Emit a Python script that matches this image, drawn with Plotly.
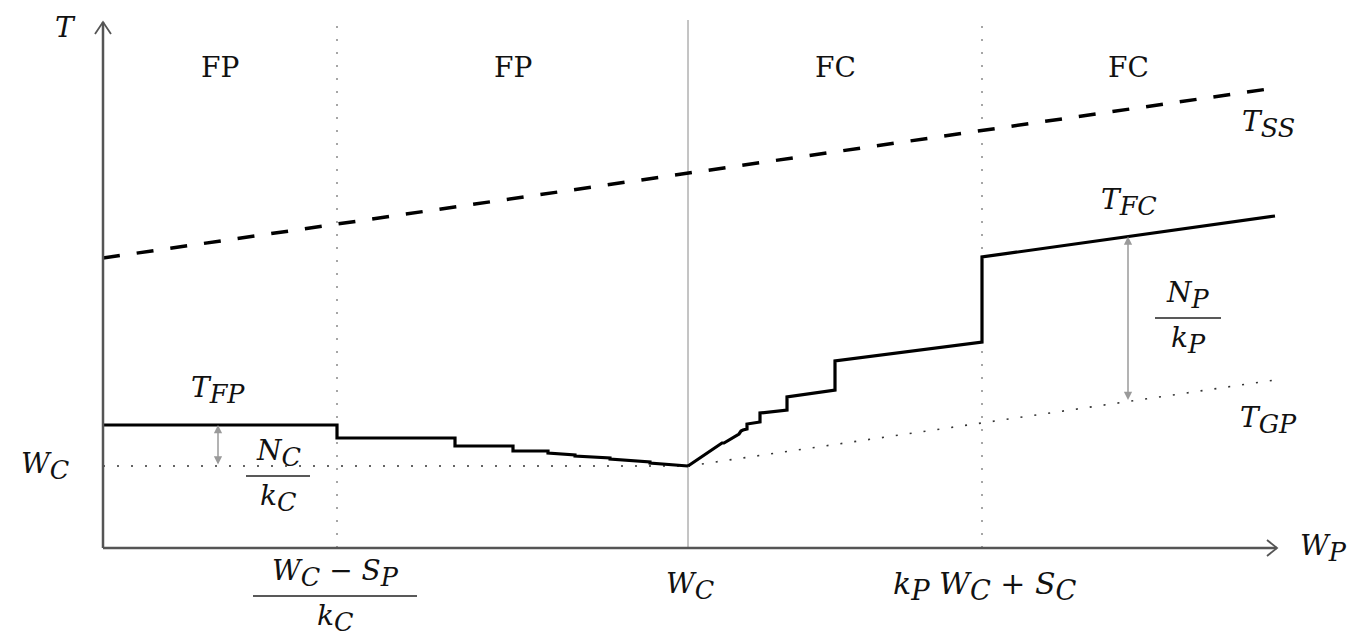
import plotly.graph_objects as go
import numpy as np

# Schematic units: x = distance along W_P axis, y = height above the W_P axis
X_END = 1174          # tip of W_P axis
Y_END = 526           # tip of T axis
LINE_TOP = 528        # top of the regime separators
x_splits = [234, 585, 879]      # (W_C - S_P)/k_C, W_C, k_P W_C + S_C
x_last = 1172
wc_level = 82

region_labels = ["FP", "FP", "FC", "FC"]

tss_x = [0, 1172]
tss_y = [290, 460]

tgp_x = [585, 1172]
tgp_y = [82, 168]

tfp_x = [0, 234, 234, 352, 352, 410, 410, 445, 445, 472, 472, 507, 507, 547, 547, 585]
tfp_y = [123, 123, 110, 110, 102, 102, 97, 97, 95, 93, 92, 90, 89, 86, 85, 82]

tfc_x = [585, 619, 621, 636, 638, 640, 644, 644, 657, 657, 684, 684, 732, 732, 879, 879, 1172]
tfc_y = [82, 105, 105, 114, 117, 118, 119, 124, 126, 135, 138, 151, 158, 187, 206, 291, 332]

nc_arrow_x = 115
np_arrow_x = 1025

SERIF = "DejaVu Serif"
INK = "#111111"


def sub(s):
    return f"<sub><span style='font-size:130%'>{s}</span></sub>"


fig = go.Figure()

# regime separators
for i, xs in enumerate(x_splits):
    if i == 1:
        fig.add_trace(go.Scatter(x=[xs, xs], y=[0, LINE_TOP], mode="lines",
                                 line=dict(color="#8a8a8a", width=1), hoverinfo="skip"))
    else:
        fig.add_trace(go.Scatter(x=[xs, xs], y=[0, LINE_TOP], mode="lines",
                                 line=dict(color="#777777", width=1.3, dash="2px,11px"), hoverinfo="skip"))

# W_C dotted level
fig.add_trace(go.Scatter(x=[0, x_splits[1]], y=[wc_level, wc_level], mode="lines",
                         line=dict(color="#333333", width=1.6, dash="2px,12px"), hoverinfo="skip"))
# T_GP dotted
fig.add_trace(go.Scatter(x=tgp_x, y=tgp_y, mode="lines",
                         line=dict(color="#333333", width=1.6, dash="2px,12px"), hoverinfo="skip"))
# T_SS dashed
fig.add_trace(go.Scatter(x=tss_x, y=tss_y, mode="lines",
                         line=dict(color="black", width=3.5, dash="17px,17px"), hoverinfo="skip"))
# T_FP and T_FC
fig.add_trace(go.Scatter(x=tfp_x, y=tfp_y, mode="lines",
                         line=dict(color="black", width=3.2), hoverinfo="skip"))
fig.add_trace(go.Scatter(x=tfc_x, y=tfc_y, mode="lines",
                         line=dict(color="black", width=3.2), hoverinfo="skip"))

# axes with open arrowheads
AX = "#555555"
fig.add_trace(go.Scatter(x=[0, X_END], y=[0, 0], mode="lines",
                         line=dict(color=AX, width=2.5), hoverinfo="skip"))
fig.add_trace(go.Scatter(x=[0, 0], y=[0, Y_END], mode="lines",
                         line=dict(color=AX, width=2.5), hoverinfo="skip"))
fig.add_trace(go.Scatter(x=[X_END - 10, X_END, X_END - 10], y=[8, 0, -8], mode="lines",
                         line=dict(color=AX, width=1.8), hoverinfo="skip"))
fig.add_trace(go.Scatter(x=[-8, 0, 8], y=[Y_END - 12, Y_END, Y_END - 12], mode="lines",
                         line=dict(color=AX, width=1.8), hoverinfo="skip"))

annotations = []


def txt(x, y, text, size=28, italic=True, xanchor="center", yanchor="middle"):
    annotations.append(dict(x=x, y=y, xref="x", yref="y", text=(f"<i>{text}</i>" if italic else text),
                            showarrow=False, xanchor=xanchor, yanchor=yanchor,
                            font=dict(family=SERIF, size=size, color=INK)))


# double-headed gray arrows
def darrow(x, y0, y1):
    annotations.append(dict(x=x, y=y1, ax=x, ay=y0, xref="x", yref="y", axref="x", ayref="y",
                            text="", showarrow=True, arrowside="end+start", arrowhead=2,
                            startarrowhead=2, arrowsize=1.1, startarrowsize=1.1,
                            arrowwidth=1.5, arrowcolor="#9a9a9a", standoff=0, startstandoff=0))


tfp_at = float(np.interp(nc_arrow_x, tfp_x[:2], tfp_y[:2]))
darrow(nc_arrow_x, wc_level, tfp_at)
tfc_at = float(np.interp(np_arrow_x, tfc_x[-2:], tfc_y[-2:]))
tgp_at = float(np.interp(np_arrow_x, tgp_x, tgp_y))
darrow(np_arrow_x, tgp_at, tfc_at)

# region labels
bounds = [0] + x_splits + [x_last]
for i, lab in enumerate(region_labels):
    txt((bounds[i] + bounds[i + 1]) / 2, 481, lab, size=28, italic=False)

txt(-38, 521, "T", size=28)
txt(1220, 0, "W" + sub("P"), size=28)
txt(-58, 82, "W" + sub("C"), size=28)
txt(1165, 424, "T" + sub("SS"), size=28)
txt(1026, 346, "T" + sub("FC"), size=28)
txt(115, 158, "T" + sub("FP"), size=28)
txt(1165, 128, "T" + sub("GP"), size=28)

shapes = []


def frac(cx, ybar, half, num, den, size=28):
    txt(cx, ybar + 2, num, size=size, yanchor="bottom")
    txt(cx, ybar - 1, den, size=size, yanchor="top")
    shapes.append(dict(type="line", xref="x", yref="y", x0=cx - half, x1=cx + half, y0=ybar, y1=ybar,
                       line=dict(color="#222222", width=1.6)))


frac(175, 72, 32, "N" + sub("C"), "k" + sub("C"))
frac(1085, 230, 33, "N" + sub("P"), "k" + sub("P"))
frac(232, -48, 82, "W" + sub("C") + " − S" + sub("P"), "k" + sub("C"), size=28)
txt(x_splits[1] + 2, -38, "W" + sub("C"), size=28)
txt(x_splits[2] + 3, -38, "k" + sub("P") + " W" + sub("C") + " + S" + sub("C"), size=30)

fig.update_layout(
    width=1364, height=635,
    margin=dict(l=0, r=0, t=0, b=0),
    paper_bgcolor="white", plot_bgcolor="white",
    showlegend=False,
    xaxis=dict(range=[-95, 1269], visible=False, fixedrange=True),
    yaxis=dict(range=[-95, 540], visible=False, fixedrange=True),
    annotations=annotations, shapes=shapes,
)

fig.write_html("out.html")
